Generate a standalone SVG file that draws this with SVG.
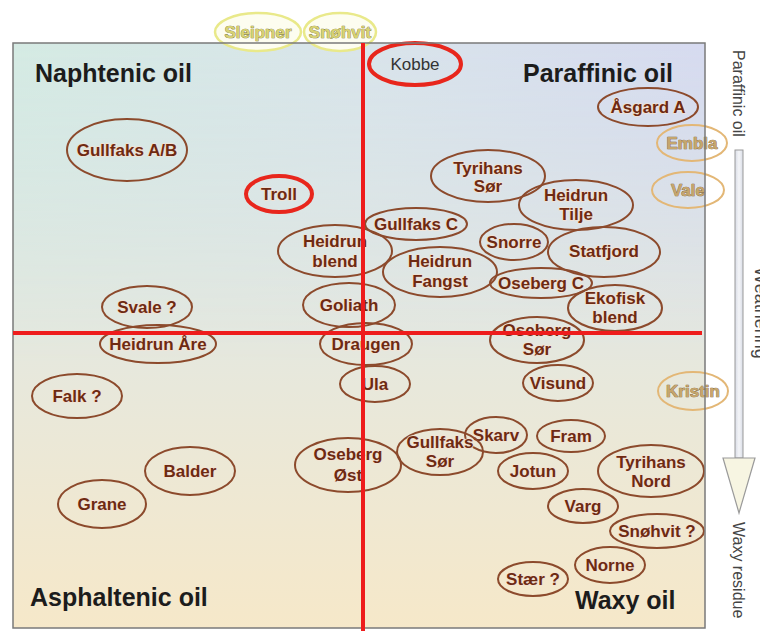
<svg xmlns="http://www.w3.org/2000/svg" width="760" height="631" viewBox="0 0 760 631">
<defs>
<linearGradient id="bgV" x1="0" y1="0" x2="0" y2="1">
<stop offset="0" stop-color="#d6e4e8"/>
<stop offset="0.5" stop-color="#e5e8df"/>
<stop offset="1" stop-color="#f6e8c9"/>
</linearGradient>
<linearGradient id="bgH" x1="0" y1="0" x2="1" y2="0">
<stop offset="0" stop-color="#d4ebe2"/>
<stop offset="0.5" stop-color="#d9e4ea"/>
<stop offset="1" stop-color="#d6d9f0"/>
</linearGradient>
<linearGradient id="fadeV" x1="0" y1="0" x2="0" y2="1">
<stop offset="0" stop-color="#fff" stop-opacity="0.9"/>
<stop offset="0.55" stop-color="#fff" stop-opacity="0"/>
</linearGradient>
<mask id="topMask" maskUnits="userSpaceOnUse" x="13" y="43" width="692" height="585">
<rect x="13" y="43" width="692" height="585" fill="url(#fadeV)"/>
</mask>
<linearGradient id="shaft" x1="0" y1="0" x2="1" y2="0">
<stop offset="0" stop-color="#d8dce6"/>
<stop offset="0.5" stop-color="#f4f5f8"/>
<stop offset="1" stop-color="#d8dce6"/>
</linearGradient>
<style>
.quad{font-family:"Liberation Sans",Arial,sans-serif;font-weight:bold;font-size:25px;fill:#1c1c1c}
.side{font-family:"Liberation Sans",Arial,sans-serif;font-size:16px;fill:#444}
.n ellipse{fill:none;stroke:#8c4a2c;stroke-width:2}
.n text{font-family:"Liberation Sans",Arial,sans-serif;font-weight:bold;font-size:17px;fill:#6e2a12;text-anchor:middle;stroke:#f4e2d2;stroke-width:1.6;paint-order:stroke;stroke-linejoin:round}
.r ellipse{fill:none;stroke:#e8261c;stroke-width:4}
.y ellipse{fill:#fdfdf0;stroke:#e9e98a;stroke-width:2.5}
.y text{fill:#d8d272;stroke:#6f6a34;stroke-width:0.7}
.t ellipse{fill:none;stroke:#e3b776;stroke-width:2}
.t text{fill:#c6a66c;stroke:#7a5a30;stroke-width:0.7}
.k text{font-weight:normal;fill:#333;stroke:none}
.axis{stroke:#ee1c1c;stroke-width:4}
</style>
</defs>
<rect width="760" height="631" fill="#fff"/>
<g id="background">
<rect x="13" y="43" width="692" height="585" fill="url(#bgV)"/>
<rect x="13" y="43" width="692" height="585" fill="url(#bgH)" mask="url(#topMask)"/>
</g>
<g id="quadrant-labels">
<text class="quad" x="35" y="82">Naphtenic oil</text>
<text class="quad" x="523" y="82">Paraffinic oil</text>
<text class="quad" x="30" y="606">Asphaltenic oil</text>
<text class="quad" x="575" y="609">Waxy oil</text>
</g>
<g id="nodes">
<g id="sleipner" class="n y"><ellipse cx="258" cy="32" rx="43" ry="19"/><text x="258" y="38">Sleipner</text></g>
<g id="snohvit" class="n y"><ellipse cx="340" cy="32" rx="36" ry="19"/><text x="340" y="38">Snøhvit</text></g>
<g id="kobbe" class="n r k"><ellipse cx="415" cy="64" rx="46" ry="21"/><text x="415" y="70">Kobbe</text></g>
<g id="asgard-a" class="n"><ellipse cx="648" cy="107" rx="50" ry="19"/><text x="648" y="113">Åsgard A</text></g>
<g id="embla" class="n t"><ellipse cx="692" cy="143" rx="35" ry="18"/><text x="692" y="149">Embla</text></g>
<g id="vale" class="n t"><ellipse cx="688" cy="190" rx="36" ry="18"/><text x="688" y="196">Vale</text></g>
<g id="gullfaks-ab" class="n"><ellipse cx="127" cy="150" rx="60" ry="31"/><text x="127" y="156">Gullfaks A/B</text></g>
<g id="troll" class="n r"><ellipse cx="279" cy="194" rx="33" ry="18"/><text x="279" y="200">Troll</text></g>
<g id="tyrihans-sor" class="n"><ellipse cx="488" cy="176" rx="57" ry="26"/><text x="488" y="174">Tyrihans</text><text x="488" y="192">Sør</text></g>
<g id="heidrun-tilje" class="n"><ellipse cx="576" cy="205" rx="57" ry="25"/><text x="576" y="201">Heidrun</text><text x="576" y="220">Tilje</text></g>
<g id="gullfaks-c" class="n"><ellipse cx="416" cy="224" rx="51" ry="16"/><text x="416" y="230">Gullfaks C</text></g>
<g id="heidrun-blend" class="n"><ellipse cx="335" cy="251" rx="57" ry="26"/><text x="335" y="247">Heidrun</text><text x="335" y="267">blend</text></g>
<g id="heidrun-fangst" class="n"><ellipse cx="440" cy="272" rx="57" ry="25"/><text x="440" y="267">Heidrun</text><text x="440" y="287">Fangst</text></g>
<g id="snorre" class="n"><ellipse cx="514" cy="242" rx="34" ry="18"/><text x="514" y="248">Snorre</text></g>
<g id="statfjord" class="n"><ellipse cx="604" cy="252" rx="56" ry="25"/><text x="604" y="257">Statfjord</text></g>
<g id="oseberg-c" class="n"><ellipse cx="541" cy="283" rx="51" ry="15"/><text x="541" y="289">Oseberg C</text></g>
<g id="ekofisk-blend" class="n"><ellipse cx="615" cy="308" rx="47" ry="23"/><text x="615" y="304">Ekofisk</text><text x="615" y="323">blend</text></g>
<g id="goliath" class="n"><ellipse cx="349" cy="305" rx="46" ry="22"/><text x="349" y="311">Goliath</text></g>
<g id="svale" class="n"><ellipse cx="147" cy="307" rx="45" ry="21"/><text x="147" y="313">Svale ?</text></g>
<g id="heidrun-are" class="n"><ellipse cx="158" cy="344" rx="58" ry="19"/><text x="158" y="350">Heidrun Åre</text></g>
<g id="draugen" class="n"><ellipse cx="366" cy="344" rx="46" ry="21"/><text x="366" y="350">Draugen</text></g>
<g id="oseberg-sor" class="n"><ellipse cx="537" cy="340" rx="47" ry="23"/><text x="537" y="336">Oseberg</text><text x="537" y="355">Sør</text></g>
<g id="visund" class="n"><ellipse cx="558" cy="383" rx="35" ry="18"/><text x="558" y="389">Visund</text></g>
<g id="ula" class="n"><ellipse cx="375" cy="384" rx="35" ry="18"/><text x="375" y="390">Ula</text></g>
<g id="kristin" class="n t"><ellipse cx="693" cy="391" rx="35" ry="19"/><text x="693" y="397">Kristin</text></g>
<g id="falk" class="n"><ellipse cx="77" cy="396" rx="45" ry="22"/><text x="77" y="402">Falk ?</text></g>
<g id="skarv" class="n"><ellipse cx="496" cy="435" rx="31" ry="18"/><text x="496" y="441">Skarv</text></g>
<g id="fram" class="n"><ellipse cx="571" cy="436" rx="34" ry="16"/><text x="571" y="442">Fram</text></g>
<g id="gullfaks-sor" class="n"><ellipse cx="440" cy="452" rx="43" ry="23"/><text x="440" y="448">Gullfaks</text><text x="440" y="467">Sør</text></g>
<g id="oseberg-ost" class="n"><ellipse cx="348" cy="465" rx="53" ry="27"/><text x="348" y="460">Oseberg</text><text x="348" y="481">Øst</text></g>
<g id="balder" class="n"><ellipse cx="190" cy="471" rx="45" ry="24"/><text x="190" y="477">Balder</text></g>
<g id="jotun" class="n"><ellipse cx="533" cy="471" rx="35" ry="18"/><text x="533" y="477">Jotun</text></g>
<g id="tyrihans-nord" class="n"><ellipse cx="651" cy="471" rx="53" ry="26"/><text x="651" y="468">Tyrihans</text><text x="651" y="487">Nord</text></g>
<g id="grane" class="n"><ellipse cx="102" cy="504" rx="44" ry="24"/><text x="102" y="510">Grane</text></g>
<g id="varg" class="n"><ellipse cx="583" cy="506" rx="35" ry="17"/><text x="583" y="512">Varg</text></g>
<g id="snohvit-q" class="n"><ellipse cx="657" cy="531" rx="47" ry="17"/><text x="657" y="537">Snøhvit ?</text></g>
<g id="norne" class="n"><ellipse cx="610" cy="565" rx="35" ry="18"/><text x="610" y="571">Norne</text></g>
<g id="staer" class="n"><ellipse cx="533" cy="579" rx="35" ry="17"/><text x="533" y="585">Stær ?</text></g>
</g>
<rect id="frame" x="13" y="43" width="692" height="585" fill="none" stroke="#7a7a7a" stroke-width="1.5"/>
<g id="axes">
<line class="axis" x1="363" y1="43" x2="363" y2="631"/>
<line class="axis" x1="13" y1="333" x2="702" y2="333"/>
</g>
<g id="weathering-scale">
<rect x="735" y="150" width="8" height="308" fill="url(#shaft)" stroke="#9a9a9a" stroke-width="1"/>
<polygon points="723,458 755,458 739,513" fill="#f7f5e2" stroke="#9a9a9a" stroke-width="1.2"/>
<text class="side" transform="translate(733,50) rotate(90)">Paraffinic oil</text>
<text class="side" transform="translate(733,522) rotate(90)">Waxy residue</text>
<text class="side" style="font-size:18px" transform="translate(755,267) rotate(90)">Weathering</text>
</g>
</svg>
